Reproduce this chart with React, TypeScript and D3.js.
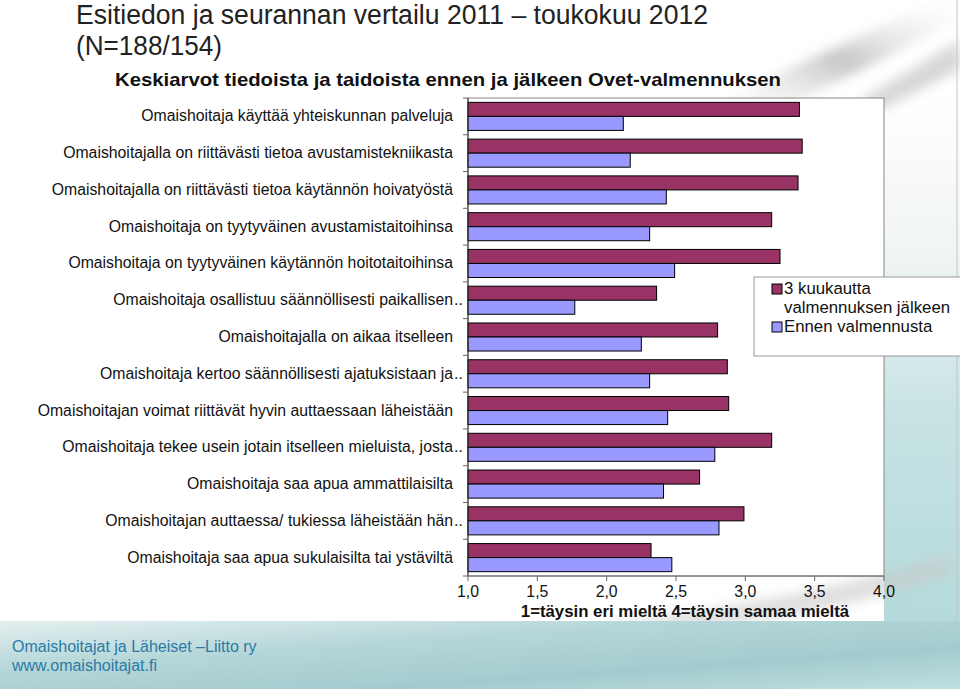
import React from 'react'
import { scaleLinear, scaleBand } from 'd3'

const width = 960
const height = 689

const categories = [
  'Omaishoitaja käyttää yhteiskunnan palveluja',
  'Omaishoitajalla on riittävästi tietoa avustamistekniikasta',
  'Omaishoitajalla on riittävästi tietoa käytännön hoivatyöstä',
  'Omaishoitaja on tyytyväinen avustamistaitoihinsa',
  'Omaishoitaja on tyytyväinen käytännön hoitotaitoihinsa',
  'Omaishoitaja osallistuu säännöllisesti paikallisen..',
  'Omaishoitajalla on aikaa itselleen',
  'Omaishoitaja kertoo säännöllisesti ajatuksistaan ja..',
  'Omaishoitajan voimat riittävät hyvin auttaessaan läheistään',
  'Omaishoitaja tekee usein jotain itselleen mieluista, josta..',
  'Omaishoitaja saa apua ammattilaisilta',
  'Omaishoitajan auttaessa/ tukiessa läheistään hän..',
  'Omaishoitaja saa apua sukulaisilta tai ystäviltä',
]

// 3 kuukautta valmennuksen jälkeen
const afterValues = [3.39, 3.41, 3.38, 3.19, 3.25, 2.36, 2.8, 2.87, 2.88, 3.19, 2.67, 2.99, 2.32]
// Ennen valmennusta
const beforeValues = [2.12, 2.17, 2.43, 2.31, 2.49, 1.77, 2.25, 2.31, 2.44, 2.78, 2.41, 2.81, 2.47]

const ticks = [1, 1.5, 2, 2.5, 3, 3.5, 4]
const tickLabels = ['1,0', '1,5', '2,0', '2,5', '3,0', '3,5', '4,0']

const seriesNames = ['3 kuukautta valmennuksen jälkeen', 'Ennen valmennusta']
const colors = ['#993366', '#9999ff']

const plot = { left: 468, right: 884, top: 98, bottom: 576 }

const x = scaleLinear().domain([1, 4]).range([plot.left, plot.right])
const y = scaleBand().domain(categories).range([plot.top, plot.bottom]).padding(0)
const inner = scaleBand()
  .domain(['after', 'before'])
  .range([0, y.bandwidth()])
  .paddingInner(0)
  .paddingOuter(0.31)

const sans = '"Liberation Sans", Arial, sans-serif'
const narrow = '"Liberation Sans Narrow", "Arial Narrow", "Liberation Sans", sans-serif'

export default function App() {
  const rows = categories.map((c, i) => ({ c, after: afterValues[i], before: beforeValues[i] }))

  return (
    <svg width={width} height={height} style={{ position: 'absolute', left: 0, top: 0 }}
      fontFamily={sans}>
      <defs>
        <linearGradient id="footer" x1="0" y1="0" x2="1" y2="1">
          <stop offset="0" stopColor="#e4efef" />
          <stop offset="0.35" stopColor="#b6d7d9" />
          <stop offset="0.7" stopColor="#a3cbce" />
          <stop offset="1" stopColor="#bfe0e1" />
        </linearGradient>
        <linearGradient id="side" x1="0" y1="0" x2="0" y2="1">
          <stop offset="0" stopColor="#ffffff" />
          <stop offset="0.3" stopColor="#f2f5f5" />
          <stop offset="0.6" stopColor="#c8e3e4" />
          <stop offset="1" stopColor="#b4dadb" />
        </linearGradient>
        <linearGradient id="swoosh" x1="0" y1="1" x2="1" y2="0">
          <stop offset="0" stopColor="#ffffff" stopOpacity="0" />
          <stop offset="0.5" stopColor="#b9b9b9" stopOpacity="0.8" />
          <stop offset="1" stopColor="#ffffff" stopOpacity="0" />
        </linearGradient>
        <filter id="blur" x="-20%" y="-20%" width="140%" height="140%">
          <feGaussianBlur stdDeviation="6" />
        </filter>
      </defs>

      {/* slide background */}
      <rect x={0} y={0} width={width} height={height} fill="#ffffff" />
      <rect x={884} y={90} width={76} height={531} fill="url(#side)" />
      <path d="M 700 110 L 960 -10 L 960 20 L 760 120 Z" fill="url(#swoosh)" filter="url(#blur)" />
      <path d="M 860 100 L 960 40 L 960 70 L 880 110 Z" fill="#bdbdbd" opacity={0.6} filter="url(#blur)" />
      <path d="M 600 625 Q 800 600 950 555 L 950 575 Q 800 625 640 630 Z" fill="#c9c9c9" opacity={0.6} filter="url(#blur)" />
      <line x1={957} x2={957} y1={0} y2={621} stroke="#c4c4c4" />
      <rect x={0} y={621} width={width} height={68} fill="url(#footer)" />

      {/* titles */}
      <text x={76} y={24} fontFamily={narrow} fontSize={27} fill="#222" textLength={632}
        lengthAdjust="spacingAndGlyphs">Esitiedon ja seurannan vertailu 2011 – toukokuu 2012</text>
      <text x={76} y={55} fontFamily={narrow} fontSize={27} fill="#222" textLength={146}
        lengthAdjust="spacingAndGlyphs">(N=188/154)</text>
      <text x={115} y={86} fontFamily={narrow} fontSize={19} fontWeight="bold" fill="#111"
        textLength={666} lengthAdjust="spacingAndGlyphs">
        Keskiarvot tiedoista ja taidoista ennen ja jälkeen Ovet-valmennuksen
      </text>

      {/* plot area */}
      <rect x={plot.left} y={plot.top} width={plot.right - plot.left} height={plot.bottom - plot.top}
        fill="#ffffff" stroke="#868686" />

      {rows.map((r) => {
        const y0 = y(r.c) as number
        return (
          <g key={r.c}>
            <rect x={x(1)} y={y0 + (inner('after') as number)} width={x(r.after) - x(1)}
              height={inner.bandwidth()} fill={colors[0]} stroke="#000" strokeWidth={1} />
            <rect x={x(1)} y={y0 + (inner('before') as number)} width={x(r.before) - x(1)}
              height={inner.bandwidth()} fill={colors[1]} stroke="#000" strokeWidth={1} />
          </g>
        )
      })}

      {/* y axis */}
      <line x1={plot.left} x2={plot.left} y1={plot.top} y2={plot.bottom} stroke="#333" />
      {categories.concat(['']).map((c, i) => {
        const yy = plot.top + i * y.step()
        return <line key={'yt' + i} x1={plot.left - 5} x2={plot.left} y1={yy} y2={yy} stroke="#666" />
      })}
      {categories.map((c) => {
        const yy = (y(c) as number) + y.bandwidth() / 2 + 5
        const cut = c.endsWith('..')
        const main = cut ? c.slice(0, -2) : c
        return (
          <g key={'lab' + c}>
            <text x={453} y={yy} textAnchor="end" fontSize={15.8} fill="#111">{main}</text>
            {cut && <text x={454} y={yy} fontSize={15.8} fill="#111">..</text>}
          </g>
        )
      })}

      {/* x axis */}
      <line x1={plot.left} x2={plot.right} y1={plot.bottom} y2={plot.bottom} stroke="#666" />
      {ticks.map((t, i) => (
        <g key={'xt' + t}>
          <line x1={x(t)} x2={x(t)} y1={plot.bottom} y2={plot.bottom + 5} stroke="#666" />
          <text x={x(t)} y={597} textAnchor="middle" fontSize={15.8} fill="#111">{tickLabels[i]}</text>
        </g>
      ))}
      <text x={685} y={617} textAnchor="middle" fontSize={16.8} fontWeight="bold" fill="#111">
        1=täysin eri mieltä 4=täysin samaa mieltä
      </text>

      {/* legend */}
      <rect x={754} y={277} width={215} height={79} fill="#ffffff" stroke="#9a9a9a" />
      <rect x={772} y={284} width={10} height={10} fill={colors[0]} stroke="#000" />
      <text x={784} y={294} fontSize={16.8} fill="#111">3 kuukautta</text>
      <text x={784} y={313} fontSize={16.8} fill="#111">valmennuksen jälkeen</text>
      <rect x={772} y={322} width={10} height={10} fill={colors[1]} stroke="#000" />
      <text x={784} y={332} fontSize={16.8} fill="#111">{seriesNames[1]}</text>

      {/* footer */}
      <text x={12} y={652} fontFamily={narrow} fontSize={16} fill="#2a7aa6">Omaishoitajat ja Läheiset –Liitto ry</text>
      <text x={12} y={671} fontFamily={narrow} fontSize={16} fill="#2a7aa6">www.omaishoitajat.fi</text>
    </svg>
  )
}
